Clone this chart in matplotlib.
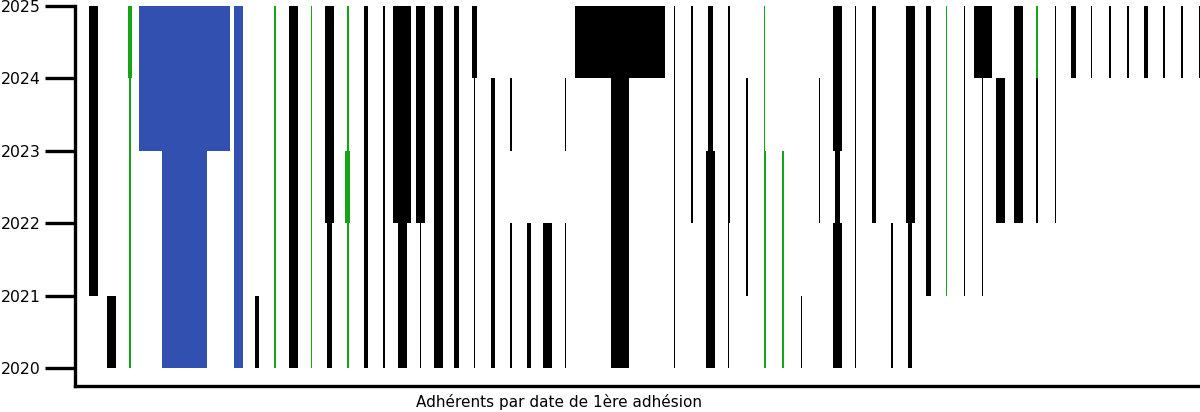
import matplotlib.pyplot as plt

# annees (bornes des intervalles)
annees = [2020, 2021, 2022, 2023, 2024, 2025]

# une colonne par adherent / groupe, poids de chaque intervalle d'annee
w_2020 = [0, 2, .33, 0, 0, 10, 0, 0, 2, 1,
          .33, 2, .33, 1, .33, 1, .45, 2, .33, 2,
          1, .25, 1, .45, 1, 2, .22, 0, 0, 4,
          0, 0, .22, 0, 2, .22, 0, .33, .33, .25,
          0, 2, .22, 0, .25, 1, 0, 0, 0, 0,
          0, 0, 0, 0, 0, 0, 0, 0, 0, 0,
          0, 0]
w_2021 = [2, 0, .33, 0, 0, 10, 0, 0, 2, 0,
          .33, 2, .33, 1, .33, 1, .45, 2, .33, 2,
          1, .25, 1, .45, 1, 2, .22, 0, 0, 4,
          0, 0, .22, 0, 2, .22, .33, .33, .33, 0,
          0, 2, .22, 0, .25, 1, 1, .22, .25, .22,
          0, 0, 0, 0, 0, 0, 0, 0, 0, 0,
          0, 0]
w_2022 = [2, 0, .33, 0, 0, 10, 0, 0, 2, 0,
          .33, 2, .33, 2, 1, 1, .45, 4, 2, 2,
          1, .25, 1, 0, 0, 0, 0, 0, 0, 4,
          0, 0, .22, .45, 2, .45, .33, .33, .33, 0,
          .33, 1, .22, 1, 0, 2, 1, .22, .25, .22,
          2, 2, .33, .25, 0, 0, 0, 0, 0, 0,
          0, 0]
w_2023 = [2, 0, .33, 0, 0, 20, 0, 0, 2, 0,
          .33, 2, .33, 2, .33, 1, .45, 4, 2, 2,
          1, .25, 1, .45, 0, 0, .22, 0, 0, 4,
          0, 0, .22, .45, 1, .45, .33, .22, 0, 0,
          .33, 2, .22, 1, 0, 2, 1, .22, .25, .22,
          2, 2, .33, .25, 0, 0, 0, 0, 0, 0,
          0, 0]
w_2024 = [2, 0, 1, 0, 0, 20, 0, 0, 2, 0,
          .33, 2, .33, 2, .33, 1, .45, 4, 2, 2,
          1, 1, 0, 0, 0, 0, 0, 0, 0, 20,
          0, 0, .22, .45, 1, .45, 0, .22, 0, 0,
          0, 2, .22, 1, 0, 2, 1, .22, .25, 4,
          0, 2, .45, .25, 1, .22, .45, .45, 1, .45,
          .45, .45]
poids = [w_2020, w_2021, w_2022, w_2023, w_2024]

# n = noir, v = vert, b = bleu
couleurs = "nnvnnbnnbn" "vnvnvnnnnn" "nnnnnnnnnn" "nnnnnnnvvn" "nnnnnnnvnn" "nnnnnnnnnn" "nn"
# la colonne 52 passe au vert en 2024
changement_couleur = {(52, 2024): "v"}

palette = {"n": "#000000", "v": "#14a514", "b": "#3150af"}
echelle = 0.25  # largeur d'une unite de poids

fig = plt.figure(figsize=(12, 4.12), dpi=100)
ax = fig.add_axes([0.0629, 0.0638, 0.9371, 0.9216])

for i, an in enumerate(annees[:-1]):
    for k, w in enumerate(poids[i]):
        if w == 0:
            continue
        c = changement_couleur.get((k, an), couleurs[k])
        ax.bar(k, 1, bottom=an, width=w * echelle, color=palette[c], linewidth=0)

ax.set_xlim(-1.01, 60.98)
ax.set_ylim(2019.755, 2025)
ax.set_yticks(annees)
ax.set_yticklabels([str(a) for a in annees], fontsize=11.3)
ax.set_xticks([])
ax.tick_params(axis="y", length=21.6, width=2.4, pad=3.6)
for s in ["top", "right"]:
    ax.spines[s].set_visible(False)
for s in ["left", "bottom"]:
    ax.spines[s].set_linewidth(2.4)

fig.text(0.466, 0.0125, "Adhérents par date de 1ère adhésion", ha="center", va="baseline",
         fontsize=11)

fig.savefig("out.png", dpi=100)
